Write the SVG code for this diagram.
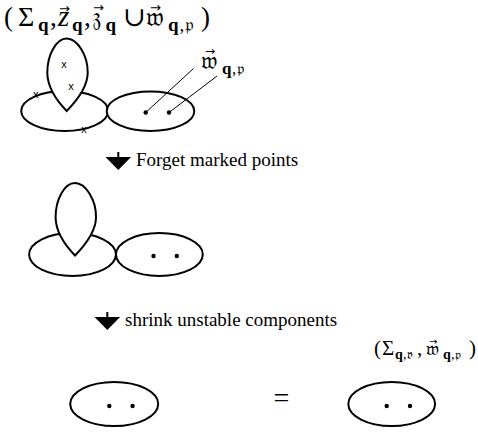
<svg xmlns="http://www.w3.org/2000/svg" width="478" height="433" viewBox="0 0 478 433">
<style>
.shape{fill:#fff;stroke:#000;stroke-width:2}
.dot{fill:#000}
.lead{stroke:#000;stroke-width:1;fill:none}
.rm{font-family:"Liberation Serif","DejaVu Serif",serif;fill:#000}
.it{font-family:"Liberation Serif","DejaVu Serif",serif;font-style:italic;fill:#000}
.bf{font-family:"Liberation Serif","DejaVu Serif",serif;font-weight:bold;fill:#000}
.fk{font-family:"DejaVu Serif","DejaVu Sans","Noto Sans",serif;fill:#000}
.vec{font-family:"DejaVu Sans",sans-serif;fill:#000}
.mark{font-family:"Liberation Sans","DejaVu Sans",sans-serif;font-size:11px;text-anchor:middle;fill:#000}
.step{font-family:"Liberation Serif","Times New Roman",serif;font-size:19px;fill:#000}
</style>
<defs>
<g id="down-arrow"><rect x="-1" y="0" width="2" height="6"/><polygon points="-12.8,5 12.8,5 0,18"/></g>
<path id="lens" d="M0,0 C-10.5,0 -19.5,16.5 -19.4,34.5 C-19.2,49.5 -8.7,63.5 0,72.5 C8.8,63.5 20.8,49.5 21,34.5 C21.3,16.5 10.3,0 0,0 Z"/>
<g id="two-dots"><circle class="dot" cx="-5" cy="1.5" r="2.2"/><circle class="dot" cx="18.3" cy="1.5" r="2.2"/></g>
</defs>

<g id="title">
<text class="rm" x="4" y="25.5" font-size="27">(</text>
<text class="rm" x="18" y="25.5" font-size="28">Σ</text>
<text class="bf" x="38" y="30.5" font-size="19">q</text>
<text class="rm" x="50" y="25.5" font-size="27">,</text>
<text class="it" x="58" y="25.5" font-size="29">z</text>
<text class="vec" x="59" y="13" font-size="13">→</text>
<text class="bf" x="72" y="30.5" font-size="19">q</text>
<text class="rm" x="84" y="25.5" font-size="27">,</text>
<text class="fk" x="92" y="25.5" font-size="26">𝔷</text>
<text class="vec" x="93" y="12" font-size="13">→</text>
<text class="bf" x="105.5" y="30.5" font-size="19">q</text>
<text class="rm" x="123" y="25.5" font-size="27">∪</text>
<text class="fk" x="146" y="25.5" font-size="26">𝔴</text>
<text class="vec" x="150" y="12" font-size="13">→</text>
<text class="bf" x="168" y="30.5" font-size="19">q</text>
<text class="rm" x="179.5" y="30.5" font-size="19">,</text>
<text class="fk" x="185" y="30.5" font-size="19">𝔭</text>
<text class="rm" x="201" y="25.5" font-size="27">)</text>
</g>

<g id="top-left-component">
<ellipse class="shape" cx="64.7" cy="111" rx="43.5" ry="20"/>
<use href="#lens" class="shape" x="66.7" y="38.5"/>
<text class="mark" x="64" y="67.5">x</text>
<text class="mark" x="71" y="90">x</text>
<text class="mark" x="35.7" y="97.5">x</text>
<text class="mark" x="84" y="132.5">x</text>
</g>

<g id="top-right-component">
<ellipse class="shape" cx="150.5" cy="111.2" rx="43.8" ry="19.8"/>
<use href="#two-dots" x="150.7" y="111"/>
</g>

<g id="label-w">
<text class="fk" x="201" y="69" font-size="24">𝔴</text>
<text class="vec" x="205" y="55" font-size="12">→</text>
<text class="bf" x="222" y="74" font-size="17">q</text>
<text class="rm" x="232" y="74" font-size="17">,</text>
<text class="fk" x="237" y="74" font-size="16">𝔭</text>
</g>

<g id="connectors">
<line class="lead" x1="145.7" y1="112.5" x2="193.5" y2="68.5"/>
<line class="lead" x1="169" y1="112.5" x2="217" y2="76"/>
</g>

<g id="step-forget">
<use href="#down-arrow" x="118.3" y="152"/>
<text class="step" x="136" y="166" font-family="Liberation Serif">Forget marked points</text>
</g>

<g id="middle-left-component">
<ellipse class="shape" cx="72.5" cy="254.5" rx="43.4" ry="21.5"/>
<use href="#lens" class="shape" x="75" y="183"/>
</g>

<g id="middle-right-component">
<ellipse class="shape" cx="159.4" cy="254.5" rx="43.4" ry="21.5"/>
<use href="#two-dots" x="158.5" y="254.5"/>
</g>

<g id="step-shrink">
<use href="#down-arrow" x="107.3" y="312"/>
<text class="step" x="125" y="326" font-family="Liberation Serif">shrink unstable components</text>
</g>

<g id="label-sigma-qv">
<text class="rm" x="374" y="355.3" font-size="21">(</text>
<text class="rm" x="382" y="355.3" font-size="21">Σ</text>
<text class="bf" x="395" y="359" font-size="14">q</text>
<text class="rm" x="403" y="359" font-size="14">,</text>
<text class="fk" x="407" y="359" font-size="13">𝔳</text>
<text class="rm" x="417" y="355.3" font-size="21">,</text>
<text class="fk" x="426" y="355.3" font-size="19">𝔴</text>
<text class="vec" x="429" y="345" font-size="10">→</text>
<text class="bf" x="443" y="359" font-size="14">q</text>
<text class="rm" x="451" y="359" font-size="14">,</text>
<text class="fk" x="455" y="359" font-size="13">𝔭</text>
<text class="rm" x="469" y="355.3" font-size="21">)</text>
</g>

<g id="bottom-left-component">
<ellipse class="shape" cx="114.2" cy="404" rx="44" ry="22"/>
<use href="#two-dots" x="114.3" y="404.5"/>
</g>

<g id="equals">
<text class="rm" x="281.5" y="407" font-size="28" text-anchor="middle">=</text>
</g>

<g id="bottom-right-component">
<ellipse class="shape" cx="391.7" cy="404" rx="43.4" ry="22"/>
<use href="#two-dots" x="391.7" y="404.5"/>
</g>
</svg>
